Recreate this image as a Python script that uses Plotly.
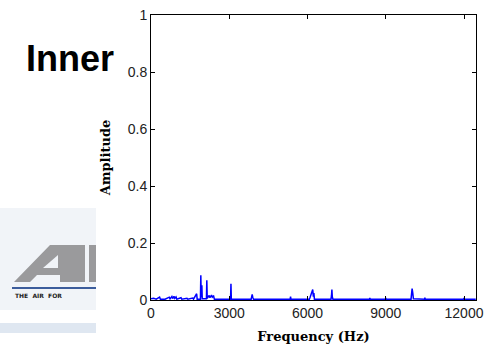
import plotly.graph_objects as go

# Spectrum data (frequency in Hz, amplitude)
freq = [0, 100, 200, 330, 360, 500, 540, 700, 730, 800, 830, 880, 910, 960, 990,
        1150, 1180, 1380, 1410, 1600, 1630, 1750, 1770, 1895, 1910, 1925, 1950, 1965,
        2125, 2140, 2155, 2230, 2260, 2320, 2350, 2400, 2430, 2810, 2830, 2850,
        3050, 3065, 3080, 3840, 3860, 3880, 3900, 3930, 5335, 5350, 5365,
        6070, 6100, 6140, 6170, 6200, 6225, 6245, 6265, 6900, 6920, 6935, 6950, 6975,
        8375, 8390, 8405, 8985, 9000, 9015, 9970, 9990, 10010, 10035, 10060,
        10485, 10500, 10515, 11985, 12000, 12015, 12450]
amp = [0.004, 0.006, 0.003, 0.010, 0.003, 0.005, 0.003, 0.010, 0.004, 0.012, 0.005, 0.013, 0.006, 0.011, 0.003,
       0.008, 0.003, 0.006, 0.003, 0.007, 0.003, 0.022, 0.003, 0.003, 0.087, 0.010, 0.052, 0.004,
       0.004, 0.069, 0.006, 0.016, 0.008, 0.017, 0.010, 0.014, 0.003, 0.003, 0.005, 0.003,
       0.003, 0.057, 0.003, 0.003, 0.012, 0.020, 0.010, 0.003, 0.003, 0.012, 0.003,
       0.003, 0.010, 0.022, 0.030, 0.037, 0.012, 0.024, 0.003, 0.003, 0.015, 0.037, 0.012, 0.003,
       0.003, 0.007, 0.003, 0.003, 0.007, 0.003, 0.003, 0.018, 0.040, 0.025, 0.004,
       0.003, 0.008, 0.003, 0.003, 0.007, 0.003, 0.003]

x_ticks = [0, 3000, 6000, 9000, 12000]
x_tick_labels = ["0", "3000", "6000", "9000", "12000"]
y_ticks = [0, 0.2, 0.4, 0.6, 0.8, 1]
y_tick_labels = ["0", "0.2", "0.4", "0.6", "0.8", "1"]

W, H = 485, 346
L, R, T, B = 151, 9, 15, 46
pw, ph = W - L - R, H - T - B


def px(x):
    return (x - L) / pw


def py(y):
    return (H - B - y) / ph


fig = go.Figure()
fig.add_trace(go.Scatter(x=freq, y=amp, mode="lines",
                         line=dict(color="#0000ff", width=1.5),
                         showlegend=False, hoverinfo="skip"))

axis_common = dict(showline=True, linecolor="black", linewidth=1, mirror="ticks",
                   ticks="inside", ticklen=4, tickcolor="black", showgrid=False,
                   zeroline=False, automargin=False,
                   tickfont=dict(family="Liberation Sans, Arial", size=14, color="#222"))

fig.update_xaxes(range=[0, 12460], tickvals=x_ticks, ticktext=x_tick_labels,
                 title=dict(text="Frequency (Hz)", standoff=12,
                            font=dict(family="DejaVu Serif", size=13, color="black", weight="bold")),
                 **axis_common)
fig.update_yaxes(range=[0, 1], tickvals=y_ticks, ticktext=y_tick_labels,
                 title=dict(text="Amplitude", standoff=14,
                            font=dict(family="DejaVu Serif", size=13, color="black", weight="bold")),
                 **axis_common)

shapes = []
# logo background
shapes.append(dict(type="rect", xref="paper", yref="paper", x0=px(0), x1=px(96), y0=py(310), y1=py(208),
                   fillcolor="#f1f4f8", line=dict(width=0), layer="below"))
shapes.append(dict(type="rect", xref="paper", yref="paper", x0=px(0), x1=px(96), y0=py(333), y1=py(323),
                   fillcolor="#dfe7f1", line=dict(width=0), layer="below"))
# stylised "A"
a_pts = [(14, 282), (50, 245), (85, 245), (85, 282), (60, 282), (60, 275), (37, 275), (30, 282)]
path = "M " + " L ".join(f"{px(x)},{py(y)}" for x, y in a_pts) + " Z"
shapes.append(dict(type="path", xref="paper", yref="paper", path=path,
                   fillcolor="#9a9a9c", line=dict(width=0)))
hole = [(43, 268), (58, 255), (58, 268)]
path2 = "M " + " L ".join(f"{px(x)},{py(y)}" for x, y in hole) + " Z"
shapes.append(dict(type="path", xref="paper", yref="paper", path=path2,
                   fillcolor="#f1f4f8", line=dict(width=0)))
shapes.append(dict(type="rect", xref="paper", yref="paper", x0=px(89), x1=px(96), y0=py(282), y1=py(245),
                   fillcolor="#9a9a9c", line=dict(width=0)))
shapes.append(dict(type="rect", xref="paper", yref="paper", x0=px(12), x1=px(96), y0=py(289), y1=py(287),
                   fillcolor="#3c5d9c", line=dict(width=0)))
fig.update_layout(shapes=shapes)

annotations = [
    dict(text="<b>Inner</b>", xref="paper", yref="paper", x=px(24), y=py(58),
         xanchor="left", yanchor="middle", showarrow=False,
         font=dict(family="Liberation Sans, Arial", size=36, color="black")),
    dict(text="<b>THE  AIR  FOR</b>", xref="paper", yref="paper", x=px(13), y=py(295),
         xanchor="left", yanchor="middle", showarrow=False,
         font=dict(family="DejaVu Sans", size=6, color="#222")),
]
fig.update_layout(annotations=annotations)

fig.update_layout(width=W, height=H, margin=dict(l=L, r=R, t=T, b=B, pad=0, autoexpand=False),
                  paper_bgcolor="white", plot_bgcolor="white")

fig.write_html("out.html", config={"displayModeBar": False},
               post_script="document.body.style.margin='0';document.body.style.overflow='hidden';")
